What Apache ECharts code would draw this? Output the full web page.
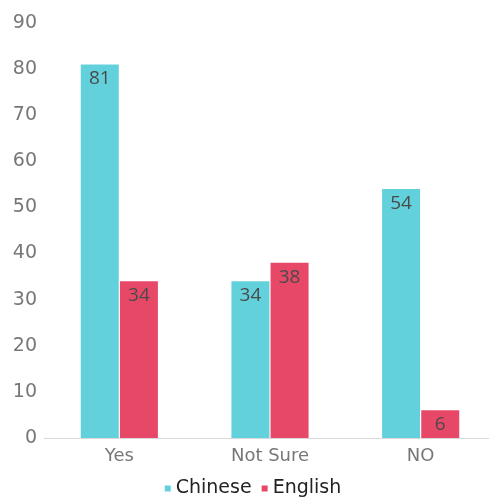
<!DOCTYPE html>
<html><head><meta charset="utf-8">
<script src="https://cdn.jsdelivr.net/npm/echarts@6/dist/echarts.min.js"></script>
<style>html,body{margin:0;padding:0;background:#fff;overflow:hidden;width:489px;height:498px}#c{width:506px;height:498px}</style>
</head><body><div id="c"></div>
<script>
const categories = ['Yes', 'Not Sure', 'NO'];
const chinese = [81, 34, 54];
const english = [34, 38, 6];
const yTicks = [0, 10, 20, 30, 40, 50, 60, 70, 80, 90];

const chart = echarts.init(document.getElementById('c'));
const font = '"DejaVu Sans", sans-serif';
const labelFont = '"Open Sans", "Noto Sans", sans-serif';
chart.setOption({
  animation: false,
  textStyle: { fontFamily: font },
  grid: { left: 44, top: 23, right: 10, bottom: 60 },
  legend: {
    top: 474, left: 'center', itemWidth: 6, itemHeight: 6, itemGap: 10, icon: 'rect',
    textStyle: { fontSize: 19, color: '#222', fontFamily: font },
    data: ['Chinese', 'English']
  },
  xAxis: {
    type: 'category', data: categories,
    axisLine: { lineStyle: { color: '#d9d9d9' } },
    axisTick: { alignWithLabel: true, length: 5, lineStyle: { color: '#d9d9d9' } },
    axisLabel: { fontSize: 18, color: '#777', margin: 9, fontFamily: font }
  },
  yAxis: {
    type: 'value', min: yTicks[0], max: yTicks[yTicks.length - 1], interval: 10,
    splitLine: { show: false },
    axisLine: { show: false }, axisTick: { show: false },
    axisLabel: { fontSize: 19, color: '#777', margin: 7, fontFamily: font }
  },
  series: [
    { name: 'Chinese', type: 'bar', data: chinese, barWidth: 38, barGap: '3%',
      itemStyle: { color: '#63D1DC' },
      label: { show: true, position: 'insideTop', fontSize: 19, color: '#4a4a4a', distance: 5, fontFamily: labelFont } },
    { name: 'English', type: 'bar', data: english, barWidth: 38,
      itemStyle: { color: '#E84867' },
      label: { show: true, position: 'insideTop', fontSize: 19, color: '#4a4a4a', distance: 5, fontFamily: labelFont } }
  ]
});
</script></body></html>
